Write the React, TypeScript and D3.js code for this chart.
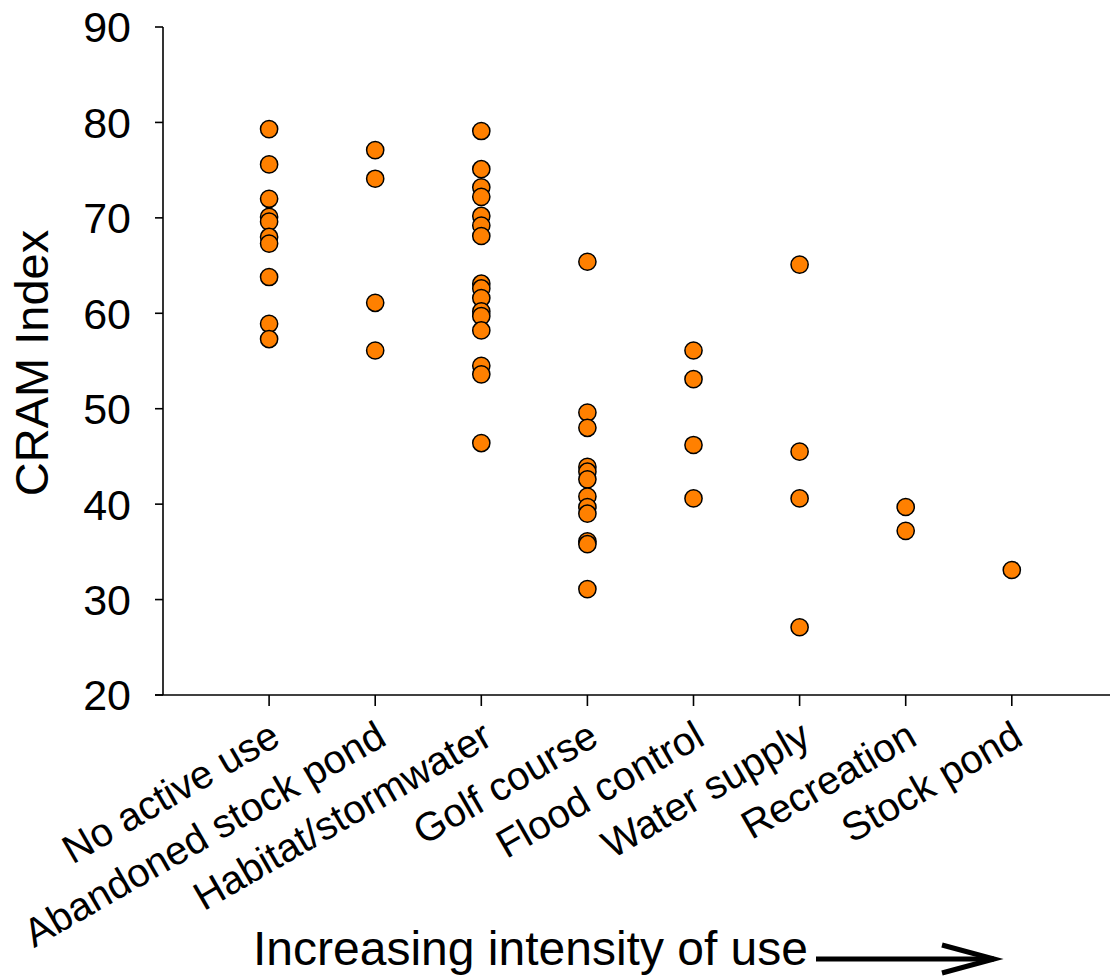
import * as d3 from "d3";

const categories = [
  "No active use",
  "Abandoned stock pond",
  "Habitat/stormwater",
  "Golf course",
  "Flood control",
  "Water supply",
  "Recreation",
  "Stock pond",
];

const noActiveUse = [79.3, 75.6, 72.0, 70.1, 69.6, 68.0, 67.3, 63.8, 58.9, 57.3];
const abandonedStockPond = [77.1, 74.1, 61.1, 56.1];
const habitatStormwater = [
  79.1, 75.1, 73.2, 72.2, 70.2, 69.2, 68.1, 63.1, 62.6, 61.6, 60.2, 59.7, 58.2,
  54.5, 53.6, 46.4,
];
const golfCourse = [65.4, 49.6, 48.0, 43.9, 43.4, 42.6, 40.8, 39.7, 39.0, 36.1, 35.8, 31.1];
const floodControl = [56.1, 53.1, 46.2, 40.6];
const waterSupply = [65.1, 45.5, 40.6, 27.1];
const recreation = [39.7, 37.2];
const stockPond = [33.1];

const series = [
  noActiveUse,
  abandonedStockPond,
  habitatStormwater,
  golfCourse,
  floodControl,
  waterSupply,
  recreation,
  stockPond,
];

const yTicks = [20, 30, 40, 50, 60, 70, 80, 90];

export default function App() {
  const width = 1110;
  const height = 979;
  const x = d3.scaleLinear([0, 9], [163, 163 + 9 * 106.1]);
  const y = d3.scaleLinear([20, 90], [695, 27]);
  const font = "Arial, 'Liberation Sans', sans-serif";

  const points = series.flatMap((vals, i) =>
    vals.map((v, j) => ({ key: `${i}-${j}`, cx: x(i + 1), cy: y(v) }))
  );

  return (
    <svg
      width={width}
      height={height}
      viewBox={`0 0 ${width} ${height}`}
      style={{ position: "absolute", left: 0, top: 0, background: "#fff" }}
      fontFamily={font}
    >
      {/* axes */}
      <line x1={x(0)} y1={y(90)} x2={x(0)} y2={y(20)} stroke="#000" strokeWidth={1.6} />
      <line x1={x(0) - 8} y1={y(20)} x2={x(9)} y2={y(20)} stroke="#000" strokeWidth={1.6} />
      {yTicks.map((t) => (
        <g key={t}>
          <line x1={x(0) - 8} y1={y(t)} x2={x(0)} y2={y(t)} stroke="#000" strokeWidth={1.6} />
          <text
            x={131}
            y={y(t)}
            dy="0.36em"
            textAnchor="end"
            fontSize={43}
            fill="#000"
          >
            {t}
          </text>
        </g>
      ))}
      {categories.map((c, i) => (
        <g key={c}>
          <line
            x1={x(i + 1)}
            y1={y(20)}
            x2={x(i + 1)}
            y2={y(20) + 11}
            stroke="#000"
            strokeWidth={1.6}
          />
          <text
            transform={`translate(${x(i + 1) - 1}, 719) rotate(-30)`}
            textAnchor="end"
            dy="0.71em"
            fontSize={40}
            fill="#000"
          >
            {c}
          </text>
        </g>
      ))}
      {points.map((p) => (
        <circle
          key={p.key}
          cx={p.cx}
          cy={p.cy}
          r={8.6}
          fill="#ff8000"
          stroke="#000"
          strokeWidth={1.5}
        />
      ))}
      {/* titles */}
      <text
        transform={`translate(48, ${(y(20) + y(90)) / 2 + 2}) rotate(-90)`}
        textAnchor="middle"
        fontSize={47}
        fill="#000"
      >
        CRAM Index
      </text>
      <text x={253} y={965} fontSize={48} fill="#000">
        Increasing intensity of use
      </text>
      <line x1={816} y1={959} x2={994} y2={959} stroke="#000" strokeWidth={5} />
      <polyline
        points="942,945 994,959 942,973"
        fill="none"
        stroke="#000"
        strokeWidth={5}
      />
    </svg>
  );
}
